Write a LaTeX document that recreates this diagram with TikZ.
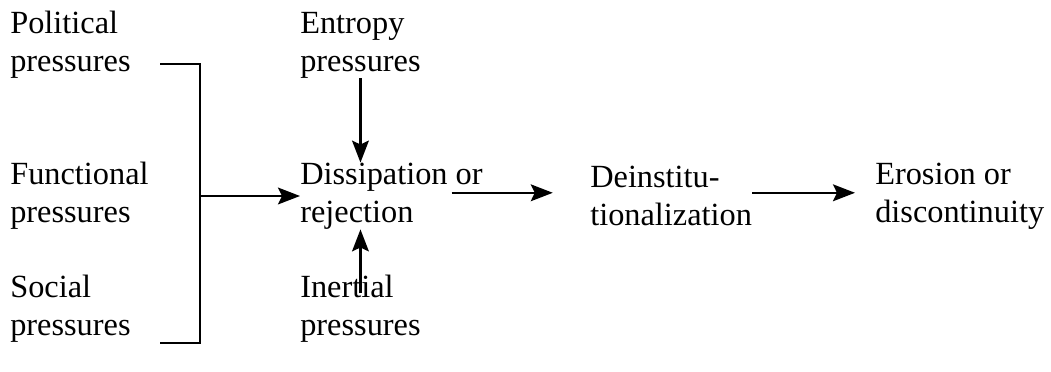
\documentclass[tikz,border=0pt]{standalone}
\usepackage{fontspec}
\setmainfont{Liberation Serif}
\usetikzlibrary{arrows.meta}

\tikzset{
  label/.style={align=left, anchor=west, inner sep=0pt, font=\fontsize{23}{27}\selectfont},
  arr/.style={line width=1.6pt, -{Stealth[length=0.55cm, width=0.42cm, inset=0.1cm]}},
  bracket/.style={line width=1.6pt}
}

\begin{document}
\begin{tikzpicture}[x=0.025cm, y=-0.025cm]
  \useasboundingbox (0, 0) rectangle (1051, 372);

  \node (pol) [label] at (10, 45) {Political\\pressures};
  \node (fun) [label] at (10, 196) {Functional\\pressures};
  \node (soc) [label] at (10, 309) {Social\\pressures};

  \node (ent) [label] at (300, 45) {Entropy\\pressures};
  \node (dis) [label] at (300, 196) {Dissipation or\\rejection};
  \node (ine) [label] at (300, 309) {Inertial\\pressures};

  \node (dei) [label] at (590, 196) {Deinstitu-\\tionalization};
  \node (ero) [label] at (875, 196) {Erosion or\\discontinuity};

  % bracket joining the three pressures
  \coordinate (top) at (160, 64);
  \coordinate (bot) at (160, 343);
  \coordinate (join) at (200, 196);
  \draw[bracket] (top) -| (join) |- (bot);

  \draw[arr] (join) -- (dis.west);
  \draw[arr] (ent.south) -- (ent.south |- dis.north);
  \draw[arr] ([yshift=-0.45cm]ine.north) -- (ine.north |- dis.south);
  \draw[arr] ([xshift=-0.78cm, yshift=0.08cm]dis.east) -- ([xshift=-0.93cm, yshift=0.08cm]dei.west);
  \draw[arr] ([yshift=0.08cm]dei.east) -- ([xshift=-0.5cm, yshift=0.08cm]ero.west);
\end{tikzpicture}
\end{document}
